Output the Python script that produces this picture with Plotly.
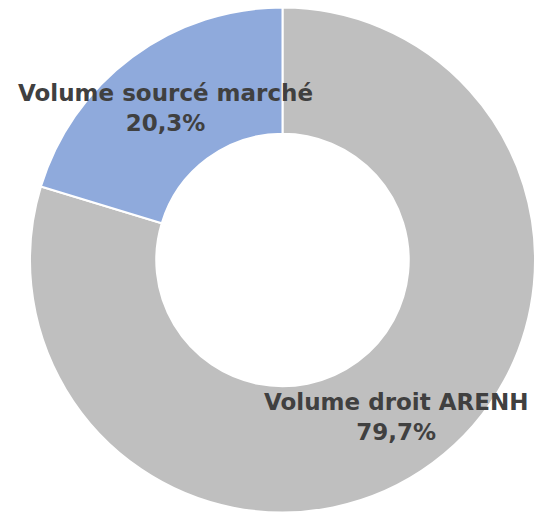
import plotly.graph_objects as go

labels = ["Volume droit ARENH", "Volume sourcé marché"]
values = [79.7, 20.3]
value_text = ["79,7%", "20,3%"]
colors = ["#BFBFBF", "#8FAADC"]
label_pos = [(396, 417), (165, 108)]  # pixel centres of the labels

W, H = 535, 513

fig = go.Figure(go.Pie(
    labels=labels,
    values=values,
    hole=0.5,
    sort=False,
    direction="clockwise",
    rotation=0,
    marker=dict(colors=colors, line=dict(color="white", width=2)),
    textinfo="none",
    hoverinfo="skip",
    showlegend=False,
    domain=dict(x=[30 / W, 1.0], y=[0.0, 506 / H]),
))

for lab, vt, (px, py) in zip(labels, value_text, label_pos):
    fig.add_annotation(
        text=f"<b>{lab}</b><br><b>{vt}</b>",
        x=px / W, y=1 - py / H, xref="paper", yref="paper",
        xanchor="center", yanchor="middle", showarrow=False,
        font=dict(family="DejaVu Sans", size=23, color="#404040"),
        align="center",
    )

fig.update_layout(
    width=W, height=H,
    margin=dict(l=0, r=0, t=0, b=0),
    paper_bgcolor="white", plot_bgcolor="white",
)

fig.write_html(
    "out.html",
    config={"displayModeBar": False},
    post_script="document.body.style.margin='0';document.body.style.overflow='hidden';",
)
